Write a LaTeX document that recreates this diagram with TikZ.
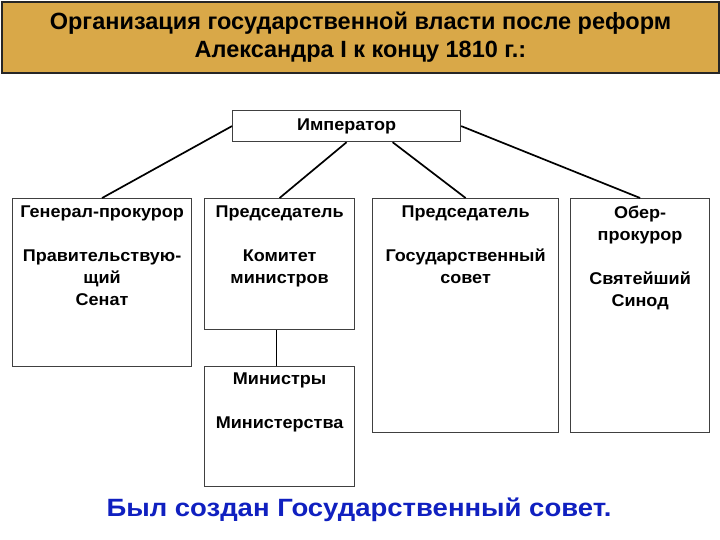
\documentclass[tikz,border=0pt]{standalone}
\usepackage{fontspec}
\setmainfont{Liberation Sans}
\newfontfamily\widefont[FakeStretch=1.06]{Liberation Sans}
\newfontfamily\notefont[FakeStretch=1.1]{Liberation Sans}
\usetikzlibrary{positioning}

\definecolor{titlegold}{RGB}{217,168,72}
\definecolor{sloganblue}{RGB}{16,32,192}

\begin{document}
\begin{tikzpicture}[x=1pt,y=-1pt,
  box/.style={draw=black!75, line width=1.2pt, anchor=north west, inner sep=0pt},
  txt/.style={anchor=north, align=center, inner sep=0pt,
    font=\widefont\bfseries\fontsize{17}{22}\selectfont},
  link/.style={line width=1.7pt}
]
\useasboundingbox (0,0) rectangle (720,540);

% title bar
\node[draw=black!85, line width=2pt, fill=titlegold, anchor=north west,
  minimum width=717pt, minimum height=71pt, align=center,
  font=\bfseries\fontsize{23.5}{28}\selectfont] (title) at (1,1)
  {Организация государственной власти после реформ\\Александра I к концу 1810 г.:};

% emperor
\node[box, minimum width=228pt, minimum height=31pt,
  font=\widefont\bfseries\fontsize{17}{20}\selectfont] (emp) at (232,110) {Император};

% institutions
\node[box, minimum width=179pt, minimum height=168pt] (gen) at (12,198) {};
\node[box, minimum width=150pt, minimum height=131pt] (kom) at (204,198) {};
\node[box, minimum width=150pt, minimum height=120pt] (min) at (204,366) {};
\node[box, minimum width=186pt, minimum height=234pt] (gos) at (372,198) {};
\node[box, minimum width=139pt, minimum height=234pt] (ober) at (570,198) {};

\node[txt, below=8pt of gen.north] (gen-t)
  {Генерал-прокурор\\[22pt]Правительствую-\\щий\\Сенат};
\node[txt, below=8pt of kom.north] (kom-t)
  {Председатель\\[22pt]Комитет\\министров};
\node[txt, below=7pt of min.north] (min-t)
  {Министры\\[22pt]Министерства};
\node[txt, below=8pt of gos.north] (gos-t)
  {Председатель\\[22pt]Государственный\\совет};
\node[txt, below=8pt of ober.north] (ober-t)
  {Обер-\\прокурор\\[22pt]Святейший\\Синод};

% links
\draw[link] (emp.west) -- (gen.north);
\draw[link] (emp.south) -- (kom.north);
\draw[link] ([xshift=46pt]emp.south) -- (gos.north);
\draw[link] (emp.east) -- (ober.north);
\draw[link] ([xshift=-3pt]kom.south) -- ([xshift=-3pt]min.north);

% note
\node[text=sloganblue, font=\notefont\bfseries\fontsize{25}{30}\selectfont] (note)
  at (359,510) {Был создан Государственный совет.};

\end{tikzpicture}
\end{document}
